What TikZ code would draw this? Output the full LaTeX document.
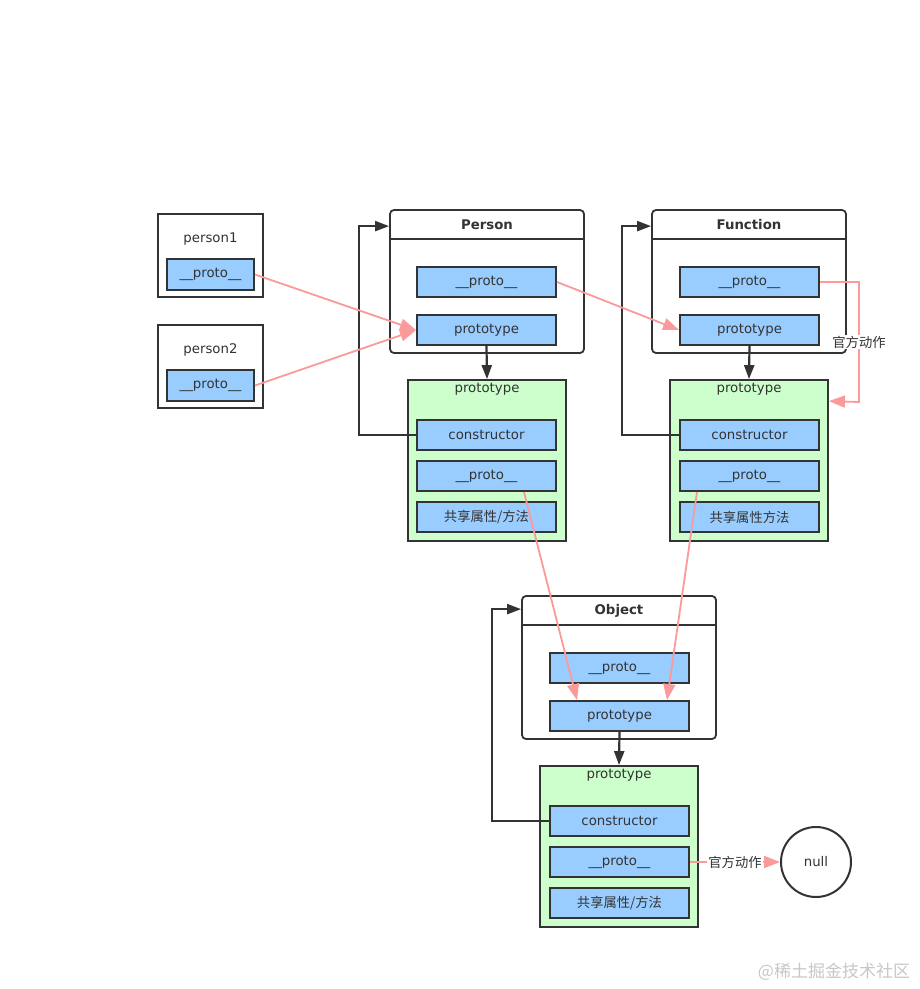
\documentclass[tikz,border=0pt]{standalone}
\usepackage{fontspec}
\setmainfont{DejaVu Sans}
\newfontfamily\cjk{Noto Sans CJK SC}
\usetikzlibrary{arrows.meta,calc}
\definecolor{ink}{HTML}{333333}
\definecolor{pinkln}{HTML}{FA9A9A}
\definecolor{bluef}{HTML}{99CCFF}
\definecolor{greenf}{HTML}{CCFFCC}
\newcommand{\fs}{\fontsize{13.3}{16}\selectfont}
\begin{document}
\begin{tikzpicture}[x=1pt,y=-1pt,
  field/.style={draw=ink, line width=2pt, fill=bluef, minimum width=139pt, minimum height=30pt, inner sep=0pt, font=\fs, text=ink},
  sfield/.style={field, minimum width=87pt, minimum height=31pt},
  outer/.style={draw=ink, line width=1.8pt, rounded corners=4pt, fill=white, minimum width=194pt, minimum height=143pt, inner sep=0pt},
  gbox/.style={draw=ink, line width=1.8pt, fill=greenf, minimum width=158pt, minimum height=161pt, inner sep=0pt},
  plainbox/.style={draw=ink, line width=2pt, fill=white, minimum width=105pt, minimum height=83pt, inner sep=0pt},
  ttl/.style={font=\fs, text=ink, inner sep=1pt},
  bttl/.style={font=\fs\bfseries, text=ink, inner sep=1pt},
  blk/.style={draw=ink, line width=2.2pt, -{Triangle[length=14pt,width=10pt]}},
  pk/.style={draw=pinkln, line width=1.8pt, -{Triangle[length=16pt,width=12pt]}},
  lbl/.style={font=\cjk\fs, fill=white, text=ink, inner sep=1pt}
]
\useasboundingbox (0,0) rectangle (920,989);
\fill[white] (0,0) rectangle (920,989);

% person1, person2
\node[plainbox] (person1) at (210.5,255.5) {};
\node[ttl] (person1t) at (210.5,239) {person1};
\node[sfield] (p1proto) at (210.5,274.5) {\_\_proto\_\_};
\node[plainbox] (person2) at (210.5,366.5) {};
\node[ttl] (person2t) at (210.5,350) {person2};
\node[sfield] (p2proto) at (210.5,385.5) {\_\_proto\_\_};

% Person
\node[outer] (person) at (487,281.5) {};
\draw[ink, line width=1.8pt] ([yshift=-30pt]person.north west) -- ([yshift=-30pt]person.north east);
\node[bttl] (persont) at (487,225) {Person};
\node[field] (pproto) at (486.5,282) {\_\_proto\_\_};
\node[field] (pprot) at (486.5,330) {prototype};

\node[gbox] (pgreen) at (487,460.5) {};
\node[ttl] (pgt) at (487,389) {prototype};
\node[field] (pcons) at (486.5,435) {constructor};
\node[field] (pgproto) at (486.5,476) {\_\_proto\_\_};
\node[field, font=\cjk\fs] (pgshare) at (486.5,517) {共享属性/方法};

% Function
\node[outer] (func) at (749,281.5) {};
\draw[ink, line width=1.8pt] ([yshift=-30pt]func.north west) -- ([yshift=-30pt]func.north east);
\node[bttl] (funct) at (749,225) {Function};
\node[field] (fproto) at (749.5,282) {\_\_proto\_\_};
\node[field] (fprot) at (749.5,330) {prototype};

\node[gbox] (fgreen) at (749,460.5) {};
\node[ttl] (fgt) at (749,389) {prototype};
\node[field] (fcons) at (749.5,435) {constructor};
\node[field] (fgproto) at (749.5,476) {\_\_proto\_\_};
\node[field, font=\cjk\fs] (fgshare) at (749.5,517) {共享属性方法};

% Object
\node[outer] (obj) at (619,667.5) {};
\draw[ink, line width=1.8pt] ([yshift=-30pt]obj.north west) -- ([yshift=-30pt]obj.north east);
\node[bttl] (objt) at (619,611) {Object};
\node[field] (oproto) at (619.5,668) {\_\_proto\_\_};
\node[field] (oprot) at (619.5,716) {prototype};

\node[gbox] (ogreen) at (619,846.5) {};
\node[ttl] (ogt) at (619,775) {prototype};
\node[field] (ocons) at (619.5,821) {constructor};
\node[field] (ogproto) at (619.5,862) {\_\_proto\_\_};
\node[field, font=\cjk\fs] (ogshare) at (619.5,903) {共享属性/方法};

% null
\node[circle, draw=ink, line width=2pt, minimum size=70pt, inner sep=0pt, font=\fs, text=ink] (null) at (816,862) {null};

% black connectors
\draw[blk] (pprot.south) -- (pgreen.north);
\draw[blk] (fprot.south) -- (fgreen.north);
\draw[blk] (oprot.south) -- (ogreen.north);
\draw[blk] (pcons.west) -- ++(-57,0) |- ([yshift=-17pt]person.north west);
\draw[blk] (fcons.west) -- ++(-57,0) |- ([yshift=-17pt]func.north west);
\draw[blk] (ocons.west) -- ++(-57,0) |- ([yshift=-14pt]obj.north west);

% pink connectors
\draw[pk] (p1proto.east) -- (pprot.west);
\draw[pk] (p2proto.east) -- (pprot.west);
\draw[pk] (pproto.east) -- (fprot.west);
\draw[pk] (fproto.east) -- ++(39,0) -- node[lbl] {官方动作} ++(0,120) -- ([yshift=-22pt]fgreen.north east);
\draw[pk] ([xshift=37.5pt]pgproto.south) -- ([xshift=-42.5pt]oprot.north);
\draw[pk] ([xshift=-52.5pt]fgproto.south) -- ([xshift=47.5pt]oprot.north);
\draw[pk] (ogproto.east) -- node[lbl] {官方动作} (null.west);

% watermark
\node[text=black!22, font=\cjk\fontsize{17}{20}\selectfont, inner sep=0pt] (wm) at (834,972) {@稀土掘金技术社区};
\end{tikzpicture}
\end{document}
